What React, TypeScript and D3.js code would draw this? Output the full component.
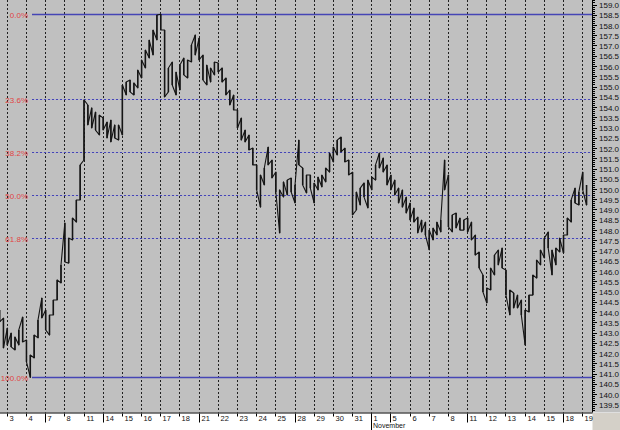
import React from "react";
import * as d3 from "d3";

// Date labels on the bottom axis (Oct 3 .. Nov 19)
const dayLabels = ["3","4","7","8","11","14","15","16","17","18","21","22","23","24","25","28","29","30","31","1","5","6","7","8","11","12","13","14","15","18","19"];
// indices of days that start a week / month (drawn with a full tick)
const weekStartIdx = [2, 5, 10, 15, 19, 20, 24, 29];
const monthMarks = [{ at: 19, label: "November" }];
const fibLevels = [0, 23.6, 38.2, 50, 61.8, 100];

// intraday bars (5 per day), high and low prices
const highs = [
  144.12,143.73,143.24,143.00,142.81,143.15,143.78,142.66,141.93,142.90,
  143.63,144.71,144.12,143.88,144.61,145.59,146.32,148.37,147.63,148.61,
  149.49,151.20,154.37,154.12,153.98,153.78,153.63,153.49,153.29,153.39,
  153.15,153.15,155.10,155.24,155.34,155.20,155.83,156.32,156.80,157.29,
  157.78,158.51,158.55,157.78,155.93,156.22,155.73,156.07,156.41,156.32,
  157.05,157.54,157.39,156.56,156.07,155.93,156.22,156.17,155.93,155.44,
  154.85,154.61,153.88,153.49,152.90,152.66,152.02,151.20,150.71,151.05,
  152.07,151.44,150.85,149.98,150.37,150.46,150.56,150.22,152.41,151.05,
  150.71,150.71,150.32,150.61,150.71,151.05,151.78,152.07,152.41,152.56,
  152.02,151.44,150.85,149.88,150.07,150.32,150.46,150.61,151.20,151.78,
  151.54,151.20,150.71,150.46,150.07,149.98,149.63,149.34,149.10,148.66,
  148.51,148.41,148.02,148.12,148.41,148.51,151.44,150.71,148.76,148.85,
  148.61,148.51,148.61,148.41,147.78,146.95,145.83,145.20,146.17,146.80,
  147.05,147.15,146.07,145.10,144.95,144.85,144.61,144.12,144.85,145.83,
  146.56,147.05,147.63,147.93,147.05,147.15,147.63,147.78,148.61,149.49,
  150.07,149.88,150.85,150.22
];
const lows = [
  143.54,142.27,142.41,142.32,142.17,142.41,142.56,141.59,140.83,141.78,
  142.76,143.73,143.15,142.90,143.88,144.61,145.44,146.46,146.41,147.54,
  148.41,149.49,151.44,153.15,153.00,152.90,152.66,152.90,152.51,152.32,
  152.51,152.41,152.66,154.61,154.76,154.61,154.95,155.44,155.93,156.41,
  156.56,157.29,157.78,154.51,154.76,155.10,154.61,154.85,155.59,155.44,
  156.22,156.56,156.32,155.34,155.10,155.24,155.59,155.73,155.24,154.61,
  154.12,153.88,153.00,152.41,152.32,151.93,151.20,149.98,149.14,150.22,
  151.20,150.56,149.88,147.88,149.63,149.73,149.88,149.34,151.20,150.22,
  149.83,150.07,149.34,149.98,150.12,150.37,150.85,151.34,151.68,151.83,
  151.34,150.71,148.76,149.00,149.24,149.63,149.10,149.98,150.46,151.05,
  150.85,150.22,149.98,149.73,149.34,149.14,148.85,148.51,148.41,147.88,
  147.93,147.78,147.05,147.54,147.78,147.93,149.98,148.17,147.93,148.12,
  148.02,148.02,147.93,147.54,146.80,146.17,145.00,144.46,145.10,145.83,
  146.32,146.17,144.85,143.88,144.22,144.22,143.88,142.41,144.02,144.85,
  145.68,146.32,146.66,147.15,145.83,146.32,146.95,146.90,147.78,148.41,
  149.34,149.24,149.98,149.24
];

const W = 620;
const H = 430;
const plotRight = 592;
const axisY = 412.5;
const font = "'Liberation Sans', Arial, sans-serif";
const fibColor = "#4545b5";

export default function App() {
  const x = d3.scaleLinear().domain([0, 30]).range([7.3, 582.7]);
  const y = d3.scaleLinear().domain([139.5, 159]).range([404.75, 5]);
  const barsPerDay = 5;
  const firstBarDay = -0.4;
  const bx = (k: number) => x(firstBarDay + k / barsPerDay);
  const crisp = (v: number) => Math.round(v - 0.5) + 0.5;

  const hiMax = d3.max(highs) as number;
  const loMin = d3.min(lows) as number;

  // zig-zag path through bars
  const pts: [number, number][] = [];
  highs.forEach((h, k) => {
    const l = lows[k];
    const mid = (h + l) / 2;
    const nextMid = k + 1 < highs.length ? (highs[k + 1] + lows[k + 1]) / 2 : mid;
    const xx = bx(k);
    if (nextMid >= mid) {
      pts.push([xx, y(l)], [xx, y(h)]);
    } else {
      pts.push([xx, y(h)], [xx, y(l)]);
    }
  });
  const line = d3.line<[number, number]>().x((d) => d[0]).y((d) => d[1]);

  const majorTicks = d3.range(0, 40).map((i) => 139.5 + i * 0.5).filter((v) => v <= 159.01);
  const minorTicks = d3.range(0, 202).map((i) => 139.2 + i * 0.1).filter((v) => v <= 159.21);

  return (
    <svg width={W} height={H} style={{ position: "absolute", left: 0, top: 0 }} fontFamily={font}>
      <rect x={0} y={0} width={W} height={H} fill="#ffffff" />
      <rect x={0} y={0} width={plotRight} height={axisY} fill="#c0c0c0" />
      <rect x={plotRight} y={0} width={W - plotRight} height={axisY} fill="#c0c0c0" />
      <rect x={plotRight + 0.5} y={axisY + 0.5} width={W - plotRight} height={H - axisY} fill="#d4d0c8" />

      {/* vertical dotted day grid */}
      {dayLabels.map((_, i) => (
        <line key={"g" + i} x1={crisp(x(i))} x2={crisp(x(i))} y1={0} y2={axisY}
          stroke="#202020" strokeWidth={1} strokeDasharray="2,2" />
      ))}

      {/* fibonacci levels */}
      {fibLevels.map((p) => {
        const v = hiMax - (p / 100) * (hiMax - loMin);
        const yy = crisp(y(v));
        const solid = p === 0 || p === 100;
        return (
          <g key={"f" + p}>
            {solid ? (
              <line x1={32} x2={plotRight} y1={yy} y2={yy} stroke={fibColor} strokeWidth={1.3} />
            ) : (
              <>
                <line x1={32} x2={plotRight} y1={yy} y2={yy} stroke="#b4b4cc" strokeWidth={1} />
                <line x1={32} x2={plotRight} y1={yy} y2={yy} stroke={fibColor} strokeWidth={1} strokeDasharray="2,2" />
              </>
            )}
            <text x={28} y={yy + 3} fontSize={8} fill="#e04444" textAnchor="end">{p.toFixed(1) + "%"}</text>
          </g>
        );
      })}

      {/* price bars */}
      <path d={line(pts) || ""} fill="none" stroke="#151515" strokeWidth={1.1} strokeLinejoin="round" />
      {highs.map((h, k) => (
        <line key={"b" + k} x1={bx(k)} x2={bx(k)} y1={y(h)} y2={y(lows[k])} stroke="#151515" strokeWidth={1.5} />
      ))}

      {/* right axis */}
      <line x1={plotRight + 0.5} x2={plotRight + 0.5} y1={0} y2={axisY} stroke="#000" />
      {minorTicks.map((v, i) => (
        <line key={"mt" + i} x1={plotRight + 1} x2={plotRight + 3} y1={crisp(y(v))} y2={crisp(y(v))} stroke="#000" />
      ))}
      {majorTicks.map((v, i) => (
        <g key={"Mt" + i}>
          <line x1={plotRight + 1} x2={plotRight + 5} y1={crisp(y(v))} y2={crisp(y(v))} stroke="#000" />
          <text x={plotRight + 7} y={y(v) + 3} fontSize={8} fill="#111">{v.toFixed(1)}</text>
        </g>
      ))}

      {/* bottom axis */}
      <line x1={0} x2={plotRight + 0.5} y1={axisY + 0.5} y2={axisY + 0.5} stroke="#000" />
      {dayLabels.map((lab, i) => {
        const xx = crisp(x(i));
        const major = weekStartIdx.includes(i);
        return (
          <g key={"d" + i}>
            <line x1={xx} x2={xx} y1={axisY + 1} y2={major ? axisY + 10 : axisY + 4} stroke="#000" />
            <text x={xx + 2} y={axisY + 8.5} fontSize={7.5} fill="#111">{lab}</text>
          </g>
        );
      })}
      {monthMarks.map((m) => {
        const xx = crisp(x(m.at));
        return (
          <g key={"m" + m.at}>
            <line x1={xx} x2={xx} y1={axisY + 1} y2={H} stroke="#000" />
            <text x={xx + 1.5} y={H - 2} fontSize={7} fill="#111">{m.label}</text>
          </g>
        );
      })}
    </svg>
  );
}
